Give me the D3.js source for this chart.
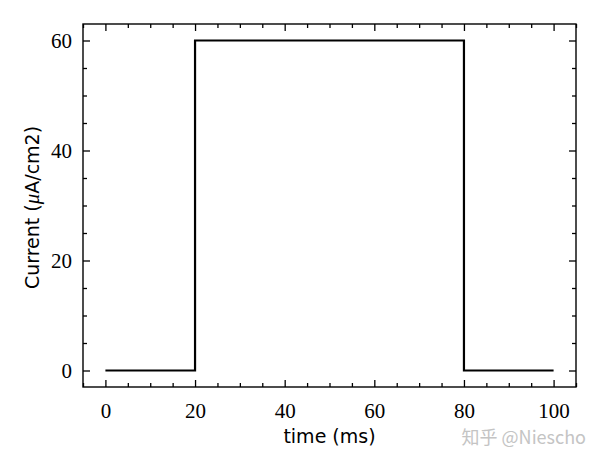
<!DOCTYPE html>
<html>
<head>
<meta charset="utf-8">
<script src="https://cdn.jsdelivr.net/npm/d3@7"></script>
<style>
  body { margin: 0; background: #fff; }
  .tick text { font-family: "Liberation Serif", "DejaVu Serif", serif; font-size: 21px; fill: #000; }
  .lab { font-family: "DejaVu Sans", sans-serif; font-size: 19px; fill: #000; }
</style>
</head>
<body>
<svg width="600" height="467"></svg>
<script>
const time = [0, 20, 20, 80, 80, 100];
const current = [0, 0, 60, 60, 0, 0];
const xTicks = [0, 20, 40, 60, 80, 100];
const yTicks = [0, 20, 40, 60];

const svg = d3.select('svg');
const margin = { top: 24, left: 83, right: 24, bottom: 80 };
const width = +svg.attr('width') - margin.left - margin.right;
const height = +svg.attr('height') - margin.top - margin.bottom;

const g = svg.append("g").attr("transform", `translate(${margin.left}, ${margin.top})`);

const x = d3.scaleLinear().domain([-5, 105]).range([0, width]);
const y = d3.scaleLinear().domain([-3, 63]).range([height, 0]);

const minorX = d3.range(-5, 106, 5).filter(v => !xTicks.includes(v));
const minorY = d3.range(-0, 63, 5).filter(v => !yTicks.includes(v));

function ticksOf(axis, vals, size, labels) {
    return axis.tickValues(vals).tickSizeInner(-size).tickSizeOuter(0)
        .tickPadding(size > 5 ? 14 : 0)
        .tickFormat(labels ? d3.format("d") : "");
}

function styleAxis(sel) {
    sel.select(".domain").remove();
    sel.selectAll(".tick line").attr("stroke", "#000").attr("stroke-width", 1.3);
}

// bottom + top
g.append("g").attr("transform", `translate(0,${height})`)
    .call(ticksOf(d3.axisBottom(x), xTicks, 7, true)).call(styleAxis);
g.append("g").attr("transform", `translate(0,${height})`)
    .call(ticksOf(d3.axisBottom(x), minorX, 4, false)).call(styleAxis);
g.append("g").call(ticksOf(d3.axisTop(x), xTicks, 7, false)).call(styleAxis);
g.append("g").call(ticksOf(d3.axisTop(x), minorX, 4, false)).call(styleAxis);

// left + right
g.append("g").call(ticksOf(d3.axisLeft(y), yTicks, 7, true)).call(styleAxis);
g.append("g").call(ticksOf(d3.axisLeft(y), minorY, 4, false)).call(styleAxis);
g.append("g").attr("transform", `translate(${width},0)`)
    .call(ticksOf(d3.axisRight(y), yTicks, 7, false)).call(styleAxis);
g.append("g").attr("transform", `translate(${width},0)`)
    .call(ticksOf(d3.axisRight(y), minorY, 4, false)).call(styleAxis);

g.selectAll(".tick text").attr("dy", null);
g.selectAll(".tick text").filter(function () { return this.parentNode.parentNode.getAttribute("text-anchor") === "middle"; })
    .attr("dy", "0.75em").attr("y", 15);
g.selectAll(".tick text").filter(function () { return this.parentNode.parentNode.getAttribute("text-anchor") === "end"; })
    .attr("dy", "0.34em").attr("x", -11);

g.append("rect")
    .attr("width", width).attr("height", height)
    .attr("fill", "none").attr("stroke", "#000").attr("stroke-width", 1.4);

const line = d3.line()
    .x((d, i) => x(time[i]))
    .y(d => y(d));

g.append("path")
    .datum(current)
    .attr("d", line)
    .attr("fill", "none")
    .attr("stroke", "#000")
    .attr("stroke-width", 2.2);

// axis labels
svg.append("text").attr("class", "lab")
    .attr("x", margin.left + width / 2).attr("y", 443)
    .attr("text-anchor", "middle")
    .text("time (ms)");

const yl = svg.append("text").attr("class", "lab")
    .attr("transform", `translate(39,${margin.top + height / 2 + 2}) rotate(-90)`)
    .attr("text-anchor", "middle");
yl.append("tspan").text("Current (");
yl.append("tspan").attr("font-family", "Liberation Serif, serif").attr("font-style", "italic").attr("font-size", 21).text("μ");
yl.append("tspan").text("A/cm2)");

svg.append("text")
    .attr("x", 586).attr("y", 444)
    .attr("text-anchor", "end")
    .attr("font-family", "Noto Sans CJK SC, sans-serif")
    .attr("font-size", 18)
    .attr("fill", "#c4c4c4")
    .text("知乎 @Niescho");
</script>
</body>
</html>
